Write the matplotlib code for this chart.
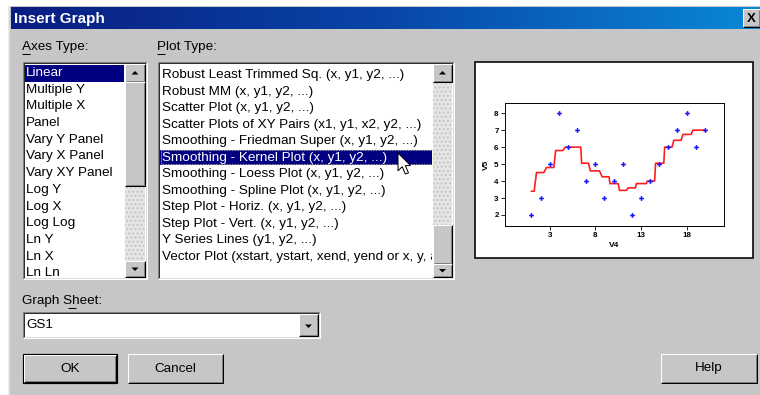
import matplotlib
matplotlib.use("Agg")
import matplotlib.pyplot as plt
from matplotlib.patches import Rectangle, Polygon
from matplotlib.colors import LinearSegmentedColormap
from matplotlib.transforms import Bbox, TransformedBbox
import numpy as np

plt.rcParams["font.family"] = ["Liberation Sans", "DejaVu Sans"]

# ---- dialog content ----
TITLE = "Insert Graph"
AXES_TYPES = ["Linear", "Multiple Y", "Multiple X", "Panel", "Vary Y Panel",
              "Vary X Panel", "Vary XY Panel", "Log Y", "Log X", "Log Log",
              "Ln Y", "Ln X", "Ln Ln"]
PLOT_TYPES = ["Robust Least Trimmed Sq. (x, y1, y2, ...)",
              "Robust MM (x, y1, y2, ...)",
              "Scatter Plot (x, y1, y2, ...)",
              "Scatter Plots of XY Pairs (x1, y1, x2, y2, ...)",
              "Smoothing - Friedman Super (x, y1, y2, ...)",
              "Smoothing - Kernel Plot (x, y1, y2, ...)",
              "Smoothing - Loess Plot (x, y1, y2, ...)",
              "Smoothing - Spline Plot (x, y1, y2, ...)",
              "Step Plot - Horiz. (x, y1, y2, ...)",
              "Step Plot - Vert. (x, y1, y2, ...)",
              "Y Series Lines (y1, y2, ...)",
              "Vector Plot (xstart, ystart, xend, yend or x, y, angle, length)"]
SEL_AXES = 0
SEL_PLOT = 5
GRAPH_SHEET = "GS1"

# ---- preview data (V4 vs V5 with kernel smoother) ----
v4 = list(range(1, 21))
v5 = [2, 3, 5, 8, 6, 7, 4, 5, 3, 4, 5, 2, 3, 4, 5, 6, 7, 8, 6, 7]
kern_x = [1.0, 1.3, 1.55, 2.35, 2.65, 3.45, 3.65, 4.45, 4.7, 6.4, 6.5, 7.25,
          7.45, 8.45, 8.75, 9.5, 9.6, 10.5, 10.65, 11.4, 11.6, 12.4, 12.5,
          13.6, 13.7, 14.5, 14.6, 15.5, 15.6, 16.4, 16.6, 17.4, 17.6, 18.5,
          18.7, 20.0]
kern_y = [3.4, 3.4, 4.5, 4.5, 4.8, 4.8, 5.8, 5.8, 6.0, 6.0, 5.05, 5.05,
          4.6, 4.6, 4.25, 4.25, 3.85, 3.85, 3.45, 3.45, 3.6, 3.6, 3.85,
          3.85, 4.0, 4.0, 5.05, 5.05, 6.0, 6.0, 6.4, 6.4, 6.75, 6.75,
          7.0, 7.0]

W, H = 760, 395
BG = "#c6c6c6"
NAVY = "#000080"
FS = 9.7
PX = 0.72  # one pixel in points at dpi 100

fig = plt.figure(figsize=(W / 100, H / 100), dpi=100, facecolor="white")
ax = fig.add_axes([0, 0, 1, 1])
ax.set_xlim(0, W)
ax.set_ylim(H, 0)
ax.axis("off")


def rect(x0, y0, x1, y1, fc, **kw):
    ax.add_patch(Rectangle((x0, y0), x1 - x0, y1 - y0, facecolor=fc,
                           edgecolor=kw.pop("ec", "none"), lw=kw.pop("lw", 0), **kw))


def line(xs, ys, c, lw=1):
    ax.plot(xs, ys, color=c, lw=lw * PX, solid_capstyle="butt")


def sunken(x0, y0, x1, y1):
    line([x0, x0, x1], [y1, y0, y0], "#808080")
    line([x0 + 1, x0 + 1, x1 - 1], [y1 - 1, y0 + 1, y0 + 1], "#303030")
    line([x0, x1, x1], [y1, y1, y0], "#ffffff")
    line([x0 + 1, x1 - 1, x1 - 1], [y1 - 1, y1 - 1, y0 + 1], "#dcdcdc")


def raised(x0, y0, x1, y1, fc=BG, default=False):
    rect(x0, y0, x1, y1, fc)
    line([x0, x0, x1], [y1, y0, y0], "#ffffff")
    line([x0, x1, x1], [y1, y1, y0], "#000000")
    line([x0 + 1, x1 - 1, x1 - 1], [y1 - 1, y1 - 1, y0 + 1], "#808080")
    if default:
        ax.add_patch(Rectangle((x0 - 1, y0 - 1), x1 - x0 + 2, y1 - y0 + 2,
                               facecolor="none", edgecolor="black", lw=1.2 * PX))


def arrow(xc, yc, up=True):
    d = -1 if up else 1
    ax.add_patch(Polygon([(xc - 3.5, yc - 1.5 * d), (xc + 3.5, yc - 1.5 * d),
                          (xc, yc + 2 * d)], closed=True, fc="black", ec="none"))


def stipple(x0, y0, x1, y1):
    rect(x0, y0, x1, y1, "#e6e6e6", ec="#c4c4c4", hatch="....")


# window background
rect(0, 0, W, H, "white")
rect(9, 6, W, H, BG)
line([9, 9], [6, H], "#e4e4e4", 1.5)

# title bar gradient
cmap = LinearSegmentedColormap.from_list("tb", ["#0a1c82", "#0846a8", "#0a88d6"])
ax.imshow(np.linspace(0, 1, 256)[None, :], cmap=cmap, aspect="auto",
          extent=(11, W, 29, 7), zorder=1)
ax.text(14, 18.5, TITLE, color="white", fontsize=11, fontweight="bold",
        va="center", ha="left", zorder=3)
raised(743, 9, 760, 27)
ax.text(751.5, 18.5, "X", fontsize=9.5, fontweight="bold", ha="center",
        va="center", zorder=3)

# labels with accelerator underlines
ax.text(22, 47, "Axes Type:", fontsize=FS, va="center")
line([22, 30], [54, 54], "black")
ax.text(157, 47, "Plot Type:", fontsize=FS, va="center")
line([157, 165], [54, 54], "black")
ax.text(22, 301, "Graph Sheet:", fontsize=FS, va="center")
line([68, 76], [308, 308], "black")

# ---- Axes Type list ----
rect(23, 62, 147, 279, "white")
sunken(23, 62, 147, 279)
clip_l = TransformedBbox(Bbox.from_extents(25, 64, 125, 277), ax.transData)
row_l = 16.7
for i, name in enumerate(AXES_TYPES):
    yc = 73 + i * row_l
    col = "black"
    if i == SEL_AXES:
        rect(25, yc - 8, 124, yc + 8.5, NAVY)
        col = "white"
    t = ax.text(26, yc, name, fontsize=FS, va="center", color=col)
    t.set_clip_box(clip_l)
    t.set_clip_on(True)
raised(125, 64, 145, 82)
arrow(135, 73)
raised(125, 82, 145, 186)
stipple(125, 186, 145, 261)
raised(125, 261, 145, 277)
arrow(135, 269, up=False)

# ---- Plot Type list ----
rect(158, 62, 454, 279, "white")
sunken(158, 62, 454, 279)
clip_m = TransformedBbox(Bbox.from_extents(160, 64, 432, 277), ax.transData)
row_m = 16.55
for i, name in enumerate(PLOT_TYPES):
    yc = 75 + i * row_m
    col = "black"
    if i == SEL_PLOT:
        rect(160, yc - 8, 432, yc + 7, NAVY)
        ax.add_patch(Rectangle((160.5, yc - 7.5), 271, 14, facecolor="none",
                               edgecolor="#f0f0a0", lw=0.8 * PX, ls=(0, (1, 1))))
        col = "white"
    t = ax.text(162, yc, name, fontsize=FS, va="center", color=col)
    t.set_clip_box(clip_m)
    t.set_clip_on(True)
raised(433, 64, 452, 82)
arrow(442.5, 73)
stipple(433, 82, 452, 225)
raised(433, 225, 452, 264)
raised(433, 264, 452, 277)
arrow(442.5, 270.5, up=False)

# mouse cursor
tip = np.array([398.0, 153.0])
cur = np.array([(0, 0), (0, 17), (4, 13), (7, 20), (10, 19), (7, 12), (12, 12)]) * 1.05
ax.add_patch(Polygon(cur + tip, closed=True, fc="white", ec="black",
                     lw=1 * PX, zorder=5))

# ---- preview frame ----
rect(475, 62, 753, 258, "white", ec="black", lw=1.6 * PX)

# ---- Graph Sheet combo ----
rect(23, 312, 320, 338, "white")
sunken(23, 312, 320, 338)
ax.text(26, 325, GRAPH_SHEET, fontsize=FS, va="center")
raised(299, 314, 318, 336)
arrow(308.5, 326, up=False)

# ---- buttons ----
raised(24, 355, 116, 382, default=True)
ax.text(70, 368.5, "OK", fontsize=FS, ha="center", va="center")
raised(128, 354, 223, 383)
ax.text(175.5, 368.5, "Cancel", fontsize=FS, ha="center", va="center")
raised(661, 354, 757, 383)
ax.text(709, 368.5, "Help", fontsize=FS, ha="center", va="center")

# ---- preview chart ----
pl, pt, pr, pb = 505, 103, 724, 226
pax = fig.add_axes([pl / W, 1 - pb / H, (pr - pl) / W, (pb - pt) / H])
pax.plot(kern_x, kern_y, color="#ff1e1e", lw=1.2)
pax.plot(v4, v5, ls="none", marker="P", ms=3.4, color="#1414ff", mew=0)
pax.set_xlim(-1.9, 22.1)
pax.set_ylim(1.35, 8.6)
pax.set_xticks([3, 8, 13, 18])
pax.set_yticks(range(2, 9))
pax.tick_params(length=3, width=0.6, labelsize=5.8, pad=1.5)
for lab in pax.get_xticklabels() + pax.get_yticklabels():
    lab.set_fontweight("bold")
for s in pax.spines.values():
    s.set_linewidth(0.7)
pax.set_xlabel("V4", fontsize=6, fontweight="bold", labelpad=2)
pax.set_ylabel("V5", fontsize=6, fontweight="bold", labelpad=3)

fig.savefig("out.png", dpi=100, facecolor="white")
